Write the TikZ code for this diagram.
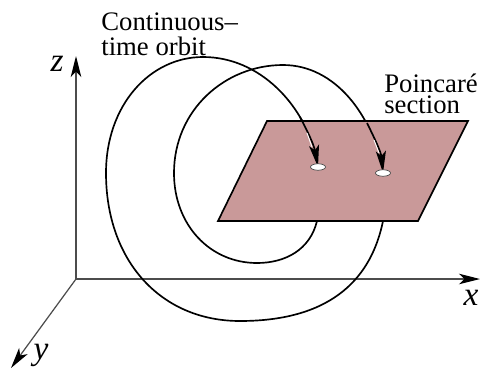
\documentclass[tikz,border=0pt]{standalone}
\usepackage{fontspec}
\setmainfont{Liberation Serif}
\usetikzlibrary{arrows.meta, positioning, shapes.geometric}

\begin{document}
\begin{tikzpicture}[x=0.02cm, y=-0.02cm,
    axis/.style={draw=black!70, line width=0.7pt, -{Stealth[length=0.42cm, width=0.21cm, inset=0.11cm, black]}},
    orbit/.style={draw=black, line width=0.95pt},
    orbitend/.style={orbit, -{Stealth[length=0.44cm, width=0.2cm, inset=0.1cm]}},
    hole/.style={draw=black!70, fill=white, line width=0.4pt, ellipse, minimum width=0.3cm, minimum height=0.13cm, inner sep=0pt},
    axislabel/.style={font=\fontsize{19}{19}\selectfont\itshape, inner sep=0pt},
    textlabel/.style={font=\fontsize{15.2}{14}\selectfont, align=left, inner sep=0pt, anchor=base west}]

    %my colors
    \definecolor{sectionrose}{rgb}{0.79, 0.60, 0.60}

    % margins of the picture
    \useasboundingbox (0,0) rectangle (480,369);

    % axes
    \coordinate (origin) at (76,279);
    \coordinate (ztip) at (76,56);
    \coordinate (xtip) at (480,279);
    \coordinate (ytip) at (11,368);
    \draw[axis] (origin) -- (ztip);
    \draw[axis] (origin) -- (xtip);
    \draw[axis] (origin) -- (ytip);
    \node[axislabel] (zlabel) at (57,64) {z};
    \node[axislabel] (xlabel) at (471,298) {x};
    \node[axislabel] (ylabel) at (41,355) {y};

    % parts of the orbit below the section
    \draw[orbit] (383,221) .. controls (372,275) and (335,321) .. (240,321)
        .. controls (160,321) and (106,260) .. (106,173)
        .. controls (106,105) and (150,57) .. (203,57)
        .. controls (260,57) and (305,105) .. (317,160);
    \draw[orbit] (317,221) .. controls (310,250) and (285,263) .. (257,263)
        .. controls (210,263) and (174,225) .. (174,173)
        .. controls (174,110) and (225,65) .. (283,65)
        .. controls (335,65) and (372,115) .. (382,168);

    % Poincare section
    \draw[fill=sectionrose, line width=0.95pt, line join=miter] (267,121) -- (468,121) -- (418,221) -- (218,221) -- cycle;

    % upper ends of the orbit, on top of the section
    \coordinate (hitone) at (318,167);
    \coordinate (hittwo) at (383,173);
    \draw[orbitend] (300,117) .. controls (307,130) and (314,145) .. (hitone);
    \draw[orbitend] (367,123) .. controls (374,137) and (381,152) .. (hittwo);
    \draw[white, line width=0.5pt] (307,133) -- (312,147);
    \draw[white, line width=0.5pt] (374,140) -- (379,153);
    \node[hole] (holeone) at (hitone) {};
    \node[hole] (holetwo) at (hittwo) {};

    % labels
    \node[textlabel] (orbitlabel) at (101,55) {Continuous--\\time orbit};
    \node[textlabel, font=\fontsize{15.2}{11.9}\selectfont] (sectionlabel) at (384,113) {Poincaré\\section};

\end{tikzpicture}
\end{document}
